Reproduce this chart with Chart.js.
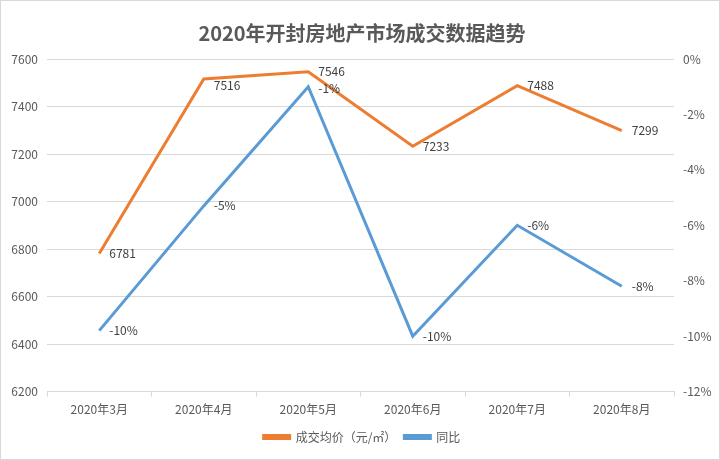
<!DOCTYPE html>
<html>
<head>
<meta charset="utf-8">
<script src="https://cdn.jsdelivr.net/npm/chart.js@4"></script>
<style>
  html, body { margin: 0; padding: 0; background: #fff; }
  #wrap { width: 718px; height: 458px; border: 1px solid #d9d9d9; }
</style>
</head>
<body>
<div id="wrap"><canvas id="myChart" width="718" height="458"></canvas></div>
<script>
var mesi = ['2020年3月', '2020年4月', '2020年5月', '2020年6月', '2020年7月', '2020年8月'];
var prezzo_medio = [6781, 7516, 7546, 7233, 7488, 7299];
var tongbi = [-9.8, -5.3, -1.0, -10.0, -6.0, -8.2];
var etichette_tongbi = ['-10%', '-5%', '-1%', '-10%', '-6%', '-8%'];

var font_cn = '"Noto Sans CJK SC", "Noto Sans", sans-serif';

// etichette dei valori a destra di ogni punto
var etichette = {
    id: 'etichette',
    afterDatasetsDraw: function(chart) {
        var ctx = chart.ctx;
        ctx.save();
        ctx.font = '12px ' + font_cn;
        ctx.fillStyle = '#404040';
        ctx.textAlign = 'left';
        ctx.textBaseline = 'middle';
        chart.data.datasets.forEach(function(ds, i) {
            var meta = chart.getDatasetMeta(i);
            meta.data.forEach(function(pt, j) {
                var testo = i === 0 ? String(ds.data[j]) : etichette_tongbi[j];
                var dy = (i === 0 && j === 1) ? 6 : 0;
                if (i === 1 && j === 2) dy = 2;
                ctx.fillText(testo, pt.x + 10, pt.y + dy);
            });
        });
        ctx.restore();
    }
};

var ctx = document.getElementById('myChart').getContext('2d');
var myChart = new Chart(ctx, {
    type: 'line',
    data: {
        labels: mesi,
        datasets: [{
            label: '成交均价（元/㎡）',
            data: prezzo_medio,
            borderColor: '#ED7D31',
            backgroundColor: '#ED7D31',
            borderWidth: 3,
            pointRadius: 0,
            tension: 0,
            yAxisID: 'y'
        }, {
            label: '同比',
            data: tongbi,
            borderColor: '#5B9BD5',
            backgroundColor: '#5B9BD5',
            borderWidth: 3,
            pointRadius: 0,
            tension: 0,
            yAxisID: 'y1'
        }]
    },
    options: {
        responsive: false,
        animation: false,
        layout: { padding: { left: 8, right: 4, top: 6, bottom: 6 } },
        plugins: {
            title: {
                display: true,
                text: '2020年开封房地产市场成交数据趋势',
                color: '#595959',
                font: { size: 20, weight: 'bold', family: font_cn },
                padding: { top: 14, bottom: 14 }
            },
            legend: {
                position: 'bottom',
                labels: {
                    boxWidth: 26,
                    boxHeight: 3,
                    color: '#595959',
                    font: { size: 12, family: font_cn },
                    padding: 8
                }
            },
            tooltip: { enabled: false }
        },
        scales: {
            x: {
                offset: true,
                grid: { display: true, offset: true, drawOnChartArea: false, drawTicks: true, tickLength: 5, color: '#d9d9d9' },
                border: { display: true, color: '#d9d9d9' },
                ticks: { color: '#595959', font: { size: 12, family: font_cn }, padding: 6, maxRotation: 0 }
            },
            y: {
                position: 'left',
                min: 6200,
                max: 7600,
                afterFit: function(s) { s.width = 38; },
                ticks: {
                    stepSize: 200,
                    color: '#595959',
                    font: { size: 12, family: font_cn },
                    padding: 9,
                    callback: function(v) { return String(v); }
                },
                grid: { color: '#d9d9d9', drawTicks: false },
                border: { display: false }
            },
            y1: {
                position: 'right',
                min: -12,
                max: 0,
                afterFit: function(s) { s.width = 41; },
                ticks: {
                    stepSize: 2,
                    color: '#595959',
                    font: { size: 12, family: font_cn },
                    padding: 9,
                    callback: function(v) { return v + '%'; }
                },
                grid: { display: false, drawTicks: false, tickLength: 0 },
                border: { display: false }
            }
        }
    },
    plugins: [etichette]
});
</script>
</body>
</html>
